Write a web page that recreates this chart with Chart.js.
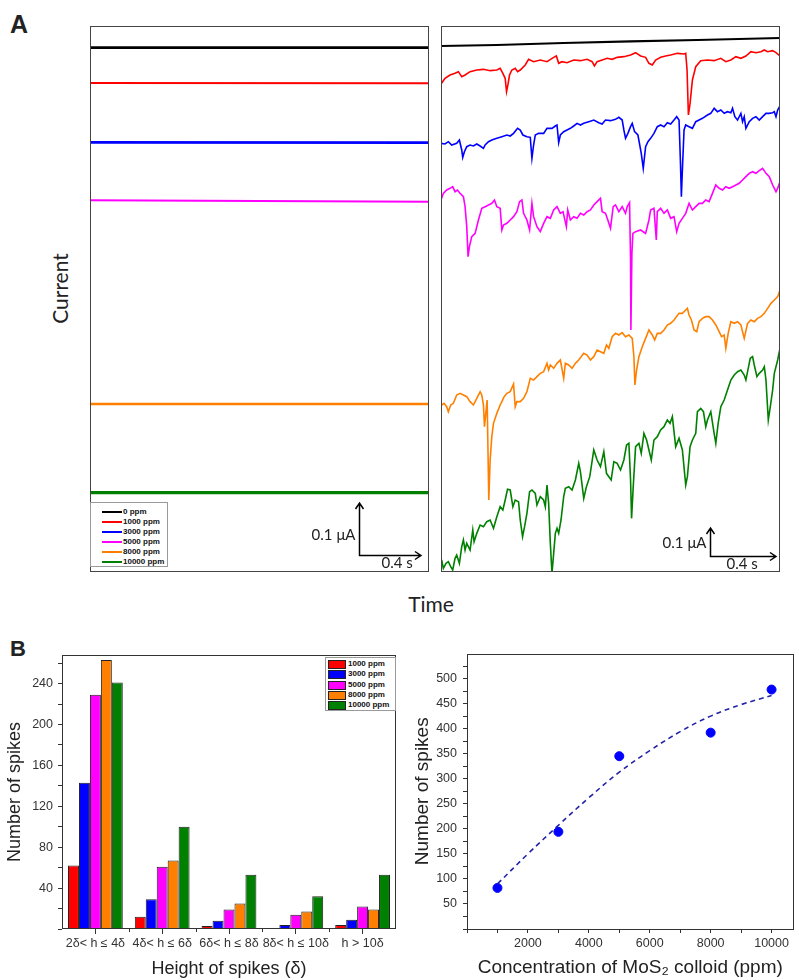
<!DOCTYPE html>
<html><head><meta charset="utf-8">
<script src="https://cdn.jsdelivr.net/npm/chart.js@4.4.1/dist/chart.umd.min.js"></script>
<style>
html,body{margin:0;padding:0;background:#fff;}
body{width:799px;height:980px;position:relative;overflow:hidden;font-family:Arial,"Liberation Sans",sans-serif;color:#222;}
canvas{position:absolute;}
.t{position:absolute;line-height:1;white-space:nowrap;}
.leg{position:absolute;border:1px solid #9a9a9a;background:#fff;box-sizing:border-box;}
.leg .lt{position:absolute;font:bold 8px Arial,"Liberation Sans",sans-serif;line-height:8px;white-space:nowrap;color:#111;}
.leg .ln{position:absolute;height:2px;}
.leg .sw{position:absolute;border:1px solid #222;box-sizing:border-box;}
</style></head><body>
<div class="t" style="left:10px;top:10px;font:bold 25px Arial,'Liberation Sans',sans-serif">A</div>
<div class="t" style="left:10px;top:636px;font:bold 22px Arial,'Liberation Sans',sans-serif">B</div>
<div class="t" style="left:0px;top:276px;width:118px;text-align:center;font:21px Lato;transform:rotate(-90deg)">Current</div>
<div class="t" style="left:381px;top:591px;width:100px;text-align:center;font:21px Lato">Time</div>

<canvas id="cA1" width="349" height="556" style="left:85px;top:21px"></canvas>
<canvas id="cA2" width="348" height="556" style="left:436px;top:21px"></canvas>
<canvas id="cB1" width="405" height="340" style="left:0px;top:640px"></canvas>
<canvas id="cB2" width="394" height="340" style="left:405px;top:640px"></canvas>

<div id="legA" class="leg" style="left:90px;top:502px;width:78px;height:65px"></div>
<div id="legB" class="leg" style="left:325px;top:657px;width:71px;height:54px"></div>

<script>
// ================= DATA =================
const concLabels = ['0 ppm','1000 ppm','3000 ppm','5000 ppm','8000 ppm','10000 ppm'];

// Panel A, left: baseline traces (time in ms, current in a.u.)
const leftTimeMs   = [0, 2190];
const left0        = [-143, -143];
const left1000     = [-249, -250];
const left3000     = [-427, -428];
const left5000     = [-601, -605];
const left8000     = [-1212, -1212];
const left10000    = [-1478, -1478];

// Panel A, right: traces with MoS2 colloid ([sample index (~2 ms), current a.u.])
const right0 = [[33,-78],[200,-75],[400,-69],[600,-64],[800,-60],[1047,-54]];
const right1000 = [[33,-192],[45,-175],[60,-165],[75,-160],[85,-155],[95,-170],[105,-165],[120,-155],[140,-150],[160,-148],[180,-152],[200,-150],[210,-145],[218,-160],[225,-175],[229,-215],[233,-195],[238,-165],[245,-150],[255,-145],[262,-155],[270,-150],[285,-135],[295,-118],[310,-125],[330,-120],[350,-125],[370,-112],[378,-108],[385,-130],[395,-125],[410,-128],[430,-120],[450,-122],[470,-118],[485,-125],[492,-138],[500,-125],[515,-120],[530,-115],[545,-118],[560,-112],[580,-110],[600,-105],[615,-98],[630,-108],[645,-112],[655,-130],[665,-135],[675,-120],[690,-112],[705,-108],[720,-105],[740,-100],[760,-102],[765,-100],[769,-150],[773,-285],[778,-250],[785,-180],[795,-140],[810,-122],[830,-120],[850,-122],[870,-115],[885,-125],[900,-120],[915,-110],[930,-115],[945,-108],[960,-95],[975,-98],[990,-95],[1000,-90],[1010,-95],[1025,-92],[1035,-98],[1047,-108]];
const right3000 = [[33,-370],[45,-372],[55,-365],[65,-375],[80,-370],[88,-360],[95,-390],[98,-412],[103,-395],[110,-380],[120,-375],[130,-378],[140,-372],[150,-378],[160,-385],[165,-375],[175,-365],[185,-360],[200,-355],[215,-350],[230,-345],[240,-348],[250,-340],[262,-325],[270,-330],[278,-345],[290,-350],[300,-352],[305,-415],[310,-375],[315,-345],[325,-340],[340,-340],[350,-325],[365,-325],[375,-318],[380,-315],[385,-368],[390,-345],[400,-335],[410,-330],[420,-325],[430,-318],[440,-310],[450,-315],[460,-310],[475,-305],[490,-300],[505,-308],[515,-312],[525,-300],[540,-302],[555,-298],[565,-292],[575,-300],[580,-330],[585,-355],[592,-340],[600,-320],[605,-310],[612,-335],[622,-345],[632,-400],[638,-445],[645,-380],[652,-365],[660,-355],[670,-340],[680,-320],[690,-315],[700,-320],[710,-308],[720,-312],[730,-300],[738,-290],[745,-300],[749,-420],[752,-530],[755,-450],[760,-330],[765,-315],[775,-320],[785,-325],[795,-305],[805,-300],[815,-295],[830,-285],[840,-280],[850,-265],[860,-275],[870,-270],[880,-280],[890,-275],[900,-278],[905,-265],[912,-290],[920,-300],[930,-280],[935,-305],[940,-290],[945,-325],[955,-305],[965,-295],[975,-290],[985,-300],[995,-290],[1005,-280],[1015,-280],[1025,-278],[1030,-275],[1035,-290],[1040,-270],[1047,-258]];
const right5000 = [[33,-540],[40,-520],[50,-510],[60,-505],[68,-500],[75,-515],[82,-510],[90,-520],[100,-530],[105,-560],[110,-620],[114,-710],[118,-680],[125,-650],[135,-640],[145,-600],[155,-565],[165,-560],[175,-555],[185,-550],[193,-540],[200,-560],[210,-565],[215,-630],[220,-615],[230,-610],[240,-600],[250,-590],[260,-575],[268,-545],[275,-540],[280,-580],[290,-600],[298,-630],[305,-550],[310,-590],[320,-620],[330,-635],[340,-610],[350,-590],[360,-595],[370,-570],[380,-560],[390,-580],[398,-575],[408,-620],[412,-570],[420,-600],[430,-590],[440,-595],[450,-580],[460,-585],[470,-575],[480,-570],[490,-555],[500,-545],[510,-535],[515,-575],[525,-580],[532,-600],[540,-625],[548,-560],[555,-555],[565,-575],[575,-560],[585,-580],[590,-560],[597,-548],[600,-720],[601,-930],[604,-700],[607,-640],[615,-635],[630,-630],[645,-640],[655,-600],[660,-570],[670,-565],[677,-660],[680,-575],[690,-565],[700,-580],[710,-570],[720,-595],[730,-590],[738,-635],[745,-610],[755,-595],[765,-580],[775,-550],[785,-570],[795,-560],[805,-550],[815,-550],[825,-540],[835,-545],[845,-520],[855,-495],[865,-505],[875,-510],[885,-500],[895,-505],[905,-500],[915,-495],[925,-490],[935,-480],[945,-470],[955,-460],[965,-455],[975,-460],[985,-452],[995,-445],[1005,-460],[1015,-470],[1025,-495],[1035,-515],[1040,-505],[1047,-485]];
const right8000 = [[35,-375],[42,-370],[50,-380],[55,-395],[62,-375],[70,-370],[80,-345],[90,-340],[100,-345],[110,-350],[120,-365],[130,-375],[140,-355],[150,-335],[155,-345],[160,-375],[163,-440],[167,-400],[171,-360],[176,-660],[180,-540],[185,-470],[190,-430],[200,-400],[210,-375],[215,-365],[222,-350],[230,-340],[240,-335],[250,-312],[255,-380],[260,-365],[270,-365],[280,-355],[290,-335],[300,-295],[310,-300],[320,-290],[330,-280],[340,-275],[350,-250],[355,-270],[360,-255],[370,-265],[380,-250],[390,-240],[400,-295],[405,-250],[415,-255],[425,-265],[435,-250],[445,-240],[460,-220],[470,-225],[480,-240],[490,-230],[500,-210],[510,-215],[520,-220],[528,-195],[535,-205],[545,-170],[555,-160],[565,-165],[575,-158],[585,-170],[595,-165],[605,-175],[610,-230],[613,-315],[618,-270],[625,-230],[635,-200],[645,-175],[655,-150],[665,-165],[672,-180],[680,-160],[690,-160],[700,-150],[710,-135],[720,-130],[730,-120],[745,-100],[755,-100],[765,-90],[770,-85],[775,-105],[782,-120],[790,-150],[798,-155],[805,-125],[815,-115],[825,-110],[835,-110],[845,-120],[855,-135],[865,-155],[872,-170],[880,-165],[885,-205],[892,-160],[900,-125],[910,-130],[920,-125],[930,-135],[940,-175],[950,-130],[960,-120],[970,-125],[980,-115],[990,-110],[1000,-100],[1010,-85],[1020,-70],[1030,-60],[1040,-50],[1047,-30]];
const right10000 = [[35,-840],[40,-865],[48,-850],[55,-845],[62,-860],[68,-870],[75,-835],[80,-825],[88,-850],[95,-800],[100,-780],[105,-810],[110,-790],[120,-810],[128,-750],[132,-785],[140,-760],[150,-735],[160,-740],[170,-725],[180,-720],[190,-745],[200,-710],[210,-680],[218,-690],[225,-660],[232,-628],[240,-630],[248,-680],[255,-660],[265,-665],[270,-720],[277,-770],[283,-740],[290,-700],[298,-635],[305,-630],[315,-640],[320,-675],[330,-650],[340,-660],[345,-680],[350,-615],[355,-670],[360,-790],[365,-880],[370,-820],[375,-760],[380,-745],[385,-760],[392,-720],[400,-650],[405,-625],[415,-620],[425,-630],[435,-600],[445,-550],[450,-575],[460,-655],[468,-620],[478,-590],[490,-510],[500,-540],[510,-560],[520,-515],[528,-580],[535,-590],[542,-600],[550,-545],[560,-550],[570,-570],[580,-540],[588,-495],[595,-490],[600,-600],[603,-715],[608,-620],[615,-500],[625,-490],[632,-520],[640,-460],[648,-480],[655,-510],[662,-540],[670,-480],[680,-470],[690,-450],[700,-440],[710,-420],[718,-430],[725,-410],[735,-500],[745,-475],[755,-510],[765,-615],[770,-590],[778,-500],[785,-480],[795,-460],[800,-395],[810,-385],[818,-395],[825,-440],[830,-420],[840,-395],[850,-460],[855,-490],[862,-430],[870,-380],[880,-360],[890,-330],[900,-300],[910,-285],[920,-275],[930,-270],[940,-285],[945,-300],[952,-265],[958,-235],[965,-230],[970,-255],[978,-290],[985,-280],[995,-270],[1000,-260],[1005,-300],[1012,-420],[1018,-380],[1025,-330],[1030,-280],[1040,-240],[1047,-205]];

// Panel B, left: histogram of spike heights
const heightCats = ['2δ< h ≤ 4δ','4δ< h ≤ 6δ','6δ< h ≤ 8δ','8δ< h ≤ 10δ','h > 10δ'];
const spikes1000  = [62, 12, 3, 0, 4];
const spikes3000  = [143, 29, 8, 4, 9];
const spikes5000  = [229, 61, 19, 14, 22];
const spikes8000  = [263, 67, 25, 17, 19];
const spikes10000 = [241, 100, 53, 32, 53];
const barYTicks   = [0, 20, 40, 60, 80, 100, 120, 140, 160, 180, 200, 220, 240, 260];
const barYLabels  = [40, 80, 120, 160, 200, 240];

// Panel B, right: total spikes vs concentration
const concPpm     = [1000, 3000, 5000, 8000, 10000];
const totalSpikes = [82, 194, 345, 392, 478];
const fitPpm      = [1000, 2000, 3000, 4000, 5000, 6000, 7000, 8000, 9000, 10000];
const fitSpikes   = [90, 150, 207, 262, 313, 356, 394, 425, 448, 466];
const scXTicks    = [0, 1000, 2000, 3000, 4000, 5000, 6000, 7000, 8000, 9000, 10000];
const scXLabels   = [2000, 4000, 6000, 8000, 10000];
const scYTicks    = [0, 25, 50, 75, 100, 125, 150, 175, 200, 225, 250, 275, 300, 325, 350, 375, 400, 425, 450, 475, 500, 525];
const scYLabels   = [50, 100, 150, 200, 250, 300, 350, 400, 450, 500];

// ================= STYLE =================
const traceColors = ['#000000','#ff0000','#0000ff','#ff00ff','#ff8000','#008000'];
const barColors   = ['#ff0000','#0000ff','#ff00ff','#ff8000','#008000'];
const rightOffsets = [0, 0, 0, 0, -780, -780];   // vertical stacking for clarity
const leftWidths  = [2.6, 2, 2.6, 2, 2.4, 3.2];
const FONT = 'Arial, "Liberation Sans", sans-serif';
Chart.defaults.font.family = FONT;
Chart.defaults.color = '#333';

// ================= PLUGINS =================
const framePlugin = {
  id: 'frame',
  afterDraw(chart, args, o) {
    if (!o || !o.color) return;
    const {ctx, chartArea: a} = chart;
    ctx.save();
    ctx.strokeStyle = o.color; ctx.lineWidth = o.width || 1;
    ctx.strokeRect(Math.round(a.left) + 0.5, Math.round(a.top) + 0.5,
                   Math.round(a.right - a.left) - 1, Math.round(a.bottom - a.top) - 1);
    ctx.restore();
  }
};
const scaleBarPlugin = {
  id: 'scaleBar',
  afterDraw(chart, args, o) {
    if (!o || !o.show) return;
    const {ctx, scales: {x, y}} = chart;
    const x0 = Math.round(x.getPixelForValue(o.t)) + 0.5;
    const y0 = Math.round(y.getPixelForValue(o.c)) + 0.5;
    const yT = y.getPixelForValue(o.c + o.dc);
    const xR = x.getPixelForValue(o.t + o.dt);
    ctx.save();
    ctx.strokeStyle = '#000'; ctx.lineWidth = 1.5; ctx.lineJoin = 'miter';
    ctx.beginPath();
    ctx.moveTo(x0, yT); ctx.lineTo(x0, y0); ctx.lineTo(xR, y0);
    ctx.moveTo(x0 - 4, yT + 6); ctx.lineTo(x0, yT); ctx.lineTo(x0 + 4, yT + 6);
    ctx.moveTo(xR - 6, y0 - 4); ctx.lineTo(xR, y0); ctx.lineTo(xR - 6, y0 + 4);
    ctx.stroke();
    ctx.fillStyle = '#222'; ctx.font = '15px Lato';
    ctx.textBaseline = 'middle';
    ctx.textAlign = 'right';
    ctx.fillText(o.vLabel, x0 - 4, y0 + o.vDy);
    ctx.textAlign = 'left';
    ctx.fillText(o.hLabel, x0 + o.hDx, y0 + 8);
    ctx.restore();
  }
};
const catTicksPlugin = {
  id: 'catTicks',
  afterDraw(chart, args, o) {
    if (!o || !o.show) return;
    const {ctx, scales: {x}, chartArea: a} = chart;
    ctx.save(); ctx.strokeStyle = '#333'; ctx.lineWidth = 1;
    for (let i = 0; i < heightCats.length - 1; i++) {
      const p = Math.round((x.getPixelForValue(i) + x.getPixelForValue(i + 1)) / 2) + 0.5;
      ctx.beginPath(); ctx.moveTo(p, a.bottom); ctx.lineTo(p, a.bottom + 3); ctx.stroke();
    }
    ctx.restore();
  }
};
Chart.register(framePlugin, scaleBarPlugin, catTicksPlugin);

const baseOpts = {
  responsive: false, animation: false, devicePixelRatio: 1,
  events: [],
};
const useTicks = (vals) => (s) => { s.ticks = vals.map(v => ({value: v})); };
const labelIf = (vals) => (v) => vals.includes(Math.round(v)) ? String(Math.round(v)) : '';

// ================= PANEL A LEFT =================
const leftSeries = [left0, left1000, left3000, left5000, left8000, left10000];
new Chart(document.getElementById('cA1'), {
  type: 'line',
  data: {
    datasets: leftSeries.map((s, i) => ({
      label: concLabels[i],
      data: s.map((v, k) => ({x: leftTimeMs[k], y: v})),
      borderColor: traceColors[i], borderWidth: leftWidths[i],
      pointRadius: 0, tension: 0, fill: false
    }))
  },
  options: {
    ...baseOpts,
    layout: {padding: 5},
    scales: {
      x: {type: 'linear', display: false, min: 0, max: 2190},
      y: {type: 'linear', display: false, min: -1716, max: -78}
    },
    plugins: {
      legend: {display: false}, tooltip: {enabled: false},
      frame: {color: '#444', width: 1},
      scaleBar: {show: true, t: 1738, c: -1665, dt: 400, dc: 156,
                 vLabel: '0.1 μA', hLabel: '0.4 s', vDy: -20, hDx: 22}
    }
  }
});

// ================= PANEL A RIGHT =================
const rightSeries = [right0, right1000, right3000, right5000, right8000, right10000];
new Chart(document.getElementById('cA2'), {
  type: 'line',
  data: {
    datasets: rightSeries.map((s, i) => ({
      label: concLabels[i],
      data: s.map(p => ({x: p[0], y: p[1] + rightOffsets[i]})),
      borderColor: traceColors[i], borderWidth: i === 0 ? 2.2 : 1.6,
      pointRadius: 0, tension: 0, fill: false, borderJoin: 'round'
    }))
  },
  options: {
    ...baseOpts,
    layout: {padding: {left: 5, top: 5, right: 4, bottom: 5}},
    scales: {
      x: {type: 'linear', display: false, min: 33, max: 1047},
      y: {type: 'linear', display: false, min: -1656, max: -18}
    },
    plugins: {
      legend: {display: false}, tooltip: {enabled: false},
      frame: {color: '#444', width: 1},
      scaleBar: {show: true, t: 837, c: -1608, dt: 198, dc: 84,
                 vLabel: '0.1 μA', hLabel: '0.4 s', vDy: -13, hDx: 16}
    }
  }
});

// ================= PANEL B LEFT =================
const barSeries = [spikes1000, spikes3000, spikes5000, spikes8000, spikes10000];
new Chart(document.getElementById('cB1'), {
  type: 'bar',
  data: {
    labels: heightCats,
    datasets: barSeries.map((s, i) => ({
      label: concLabels[i + 1], data: s,
      backgroundColor: barColors[i], borderColor: '#222', borderWidth: 1,
      categoryPercentage: 0.82, barPercentage: 1.0
    }))
  },
  options: {
    ...baseOpts,
    layout: {padding: {top: 15, right: 9, left: 0, bottom: 0}},
    scales: {
      x: {
        afterFit: s => { s.height = 51; },
        grid: {drawOnChartArea: false, drawTicks: true, tickLength: 5, color: '#333', offset: false},
        border: {display: false},
        ticks: {font: {size: 12.5}, color: '#333', maxRotation: 0, minRotation: 0, autoSkip: false, padding: 2},
        title: {display: true, text: 'Height of spikes (δ)', font: {size: 18}, color: '#222', padding: {top: 0, bottom: 0}}
      },
      y: {
        type: 'linear', min: 0, max: 268,
        afterFit: s => { s.width = 62; },
        afterBuildTicks: useTicks(barYTicks),
        grid: {drawOnChartArea: false, drawTicks: true, tickLength: 4, color: '#333'},
        border: {display: false},
        ticks: {font: {size: 12.5}, color: '#333', padding: 5, autoSkip: false, callback: labelIf(barYLabels)},
        title: {display: true, text: 'Number of spikes', font: {size: 18}, color: '#222', padding: {top: 4, bottom: 0}}
      }
    },
    plugins: {
      legend: {display: false}, tooltip: {enabled: false},
      frame: {color: '#333', width: 1},
      catTicks: {show: true}
    }
  }
});

// ================= PANEL B RIGHT =================
new Chart(document.getElementById('cB2'), {
  type: 'line',
  data: {
    datasets: [
      {
        label: 'Fit', data: fitPpm.map((x, i) => ({x, y: fitSpikes[i]})),
        borderColor: '#2323a8', borderWidth: 1.6, borderDash: [5, 4],
        pointRadius: 0, tension: 0.4, fill: false
      },
      {
        label: 'Number of spikes', data: concPpm.map((x, i) => ({x, y: totalSpikes[i]})),
        showLine: false, pointRadius: 4.5, pointBackgroundColor: '#0000ff',
        pointBorderColor: '#0000ff', borderColor: '#0000ff'
      }
    ]
  },
  options: {
    ...baseOpts,
    layout: {padding: {top: 13, right: 1, left: 0, bottom: 0}},
    scales: {
      x: {
        type: 'linear', min: 0, max: 10720,
        afterFit: s => { s.height = 51; },
        afterBuildTicks: useTicks(scXTicks),
        grid: {drawOnChartArea: false, drawTicks: true, tickLength: 4, color: '#333'},
        border: {display: false},
        ticks: {font: {size: 12.5}, color: '#333', maxRotation: 0, minRotation: 0, autoSkip: false, padding: 3,
                callback: labelIf(scXLabels)},
        title: {display: true, text: 'Concentration of MoS₂ colloid (ppm)', font: {size: 19}, color: '#222', padding: {top: 0, bottom: 1}}
      },
      y: {
        type: 'linear', min: 0, max: 550,
        afterFit: s => { s.width = 62; },
        afterBuildTicks: useTicks(scYTicks),
        grid: {drawOnChartArea: false, drawTicks: true, tickLength: 4, color: '#333'},
        border: {display: false},
        ticks: {font: {size: 12.5}, color: '#333', padding: 6, autoSkip: false, callback: labelIf(scYLabels)},
        title: {display: true, text: 'Number of spikes', font: {size: 19}, color: '#222', padding: {top: 6, bottom: 0}}
      }
    },
    plugins: {
      legend: {display: false}, tooltip: {enabled: false},
      frame: {color: '#333', width: 1}
    }
  }
});

// ================= HTML LEGENDS =================
const legA = document.getElementById('legA');
concLabels.forEach((lab, i) => {
  const top = 9 + i * 10;
  legA.insertAdjacentHTML('beforeend',
    `<div class="ln" style="left:11px;top:${top - 1}px;width:20px;background:${traceColors[i]}"></div>` +
    `<div class="lt" style="left:32px;top:${top - 4}px">${lab}</div>`);
});
const legB = document.getElementById('legB');
concLabels.slice(1).forEach((lab, i) => {
  const top = 6 + i * 10.3;
  legB.insertAdjacentHTML('beforeend',
    `<div class="sw" style="left:2px;top:${top - 4}px;width:18px;height:9px;background:${barColors[i]}"></div>` +
    `<div class="lt" style="left:22px;top:${top - 4}px">${lab}</div>`);
});
</script>
</body></html>
